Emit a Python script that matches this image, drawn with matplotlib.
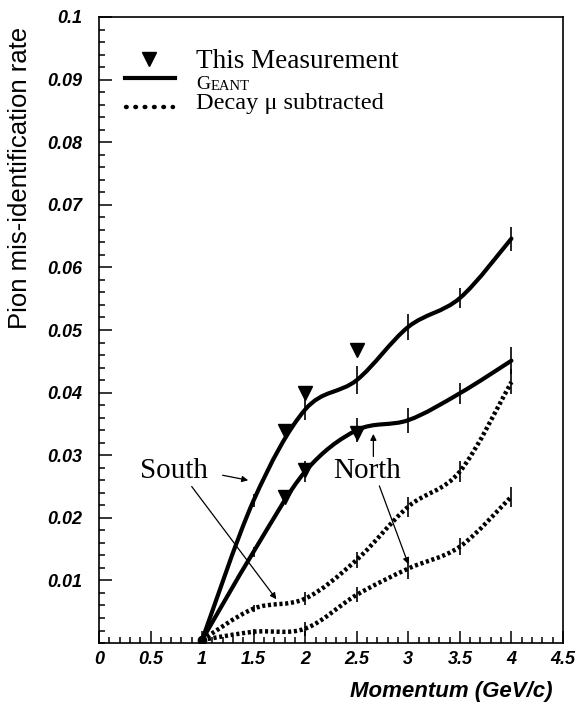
import numpy as np
import matplotlib
matplotlib.use("Agg")
import matplotlib.pyplot as plt
from matplotlib.path import Path
from matplotlib.patches import PathPatch
from matplotlib.ticker import MultipleLocator

# ---------------- data ----------------
momentum = [1.0, 1.5, 2.0, 2.5, 3.0, 3.5, 4.0]

geant_south = [0.0005, 0.0228, 0.0373, 0.0420, 0.0505, 0.0551, 0.0646]
geant_south_err = [0.0, 0.0010, 0.0017, 0.0022, 0.0021, 0.0016, 0.0019]

geant_north = [0.0005, 0.0146, 0.0274, 0.0340, 0.0356, 0.0399, 0.0451]
geant_north_err = [0.0, 0.0008, 0.0016, 0.0019, 0.0020, 0.0017, 0.0022]

decay_south = [0.0005, 0.0055, 0.0071, 0.0133, 0.0218, 0.0274, 0.0417]
decay_south_err = [0.0, 0.0006, 0.0010, 0.0013, 0.0016, 0.0017, 0.0020]

decay_north = [0.0005, 0.0018, 0.0023, 0.0077, 0.0119, 0.0154, 0.0234]
decay_north_err = [0.0, 0.0005, 0.0011, 0.0012, 0.0016, 0.0014, 0.0016]

meas_momentum = [1.8, 2.0, 2.5]
meas_south = [0.0338, 0.0399, 0.0468]
meas_north = [0.0234, 0.0276, 0.0335]

xtick_vals = [0, 0.5, 1, 1.5, 2, 2.5, 3, 3.5, 4, 4.5]
xtick_labels = ["0", "0.5", "1", "1.5", "2", "2.5", "3", "3.5", "4", "4.5"]
ytick_vals = [0.01, 0.02, 0.03, 0.04, 0.05, 0.06, 0.07, 0.08, 0.09, 0.1]
ytick_labels = ["0.01", "0.02", "0.03", "0.04", "0.05", "0.06", "0.07", "0.08", "0.09", "0.1"]

legend_labels = ["This Measurement", "G", "EANT", "Decay \u03bc subtracted"]
x_label = "Momentum (GeV/c)"
y_label = "Pion mis-identification rate"
# --------------------------------------

plt.rcParams["font.family"] = ["Liberation Sans", "DejaVu Sans"]
SERIF = ["Liberation Serif", "DejaVu Serif"]

fig = plt.figure(figsize=(5.78, 7.05), dpi=100)
ax = fig.add_axes([0.1713, 0.0879, 0.8027, 0.888])
ax.set_xlim(0, 4.5)
ax.set_ylim(0, 0.1)


def smooth_path(xs, ys):
    """Catmull-Rom style cubic Bezier path through the data points."""
    pts = np.column_stack([xs, ys]).astype(float)
    n = len(pts)
    verts = [pts[0]]
    codes = [Path.MOVETO]
    for i in range(n - 1):
        p0 = pts[i - 1] if i > 0 else pts[i]
        p1 = pts[i]
        p2 = pts[i + 1]
        p3 = pts[i + 2] if i + 2 < n else pts[i + 1]
        c1 = p1 + (p2 - p0) / 6.0
        c2 = p2 - (p3 - p1) / 6.0
        verts += [c1, c2, p2]
        codes += [Path.CURVE4] * 3
    return Path(verts, codes)


solid_kw = dict(fill=False, lw=3.0, ec="black", capstyle="round", joinstyle="round")
dotted_kw = dict(fill=False, lw=3.2, ec="black", linestyle=(0, (0.7, 0.6)))

for ys in (geant_south, geant_north):
    ax.add_patch(PathPatch(smooth_path(momentum, ys), transform=ax.transData, **solid_kw))
for ys in (decay_south, decay_north):
    ax.add_patch(PathPatch(smooth_path(momentum, ys), transform=ax.transData, **dotted_kw))

for ys, es in ((geant_south, geant_south_err), (geant_north, geant_north_err),
               (decay_south, decay_south_err), (decay_north, decay_north_err)):
    ax.errorbar(momentum[1:], ys[1:], yerr=es[1:], fmt="none", ecolor="black",
                elinewidth=1.2, capsize=0)

ax.plot([momentum[0]], [geant_south[0]], "o", color="black", ms=6)

ax.plot(meas_momentum, meas_south, "v", color="black", ms=10, ls="none")
ax.plot(meas_momentum, meas_north, "v", color="black", ms=10, ls="none")

# ticks
ax.set_xticks(xtick_vals)
ax.set_xticklabels(xtick_labels)
ax.set_yticks(ytick_vals)
ax.set_yticklabels(ytick_labels)
ax.xaxis.set_minor_locator(MultipleLocator(0.1))
ax.yaxis.set_minor_locator(MultipleLocator(0.002))
ax.tick_params(which="both", direction="in", top=False, right=False, width=1.1)
ax.tick_params(which="major", length=9)
ax.tick_params(which="minor", length=4.5)
ax.tick_params(axis="y", which="major", pad=12)
ax.tick_params(axis="x", which="major", pad=6)
for lab in ax.get_xticklabels() + ax.get_yticklabels():
    lab.set_fontsize(13)
    lab.set_fontweight("bold")
    lab.set_fontstyle("italic")
for sp in ax.spines.values():
    sp.set_linewidth(1.2)

# axis labels
fig.text(552 / 578, 1 - 692 / 705, x_label, ha="right", va="center",
         fontsize=16, fontweight="bold", fontstyle="italic")
fig.text(20 / 578, 1 - 178 / 705, y_label, ha="center", va="center",
         rotation=90, fontsize=18.5)

# legend (axes-fraction layout)
T = ax.transAxes
ax.plot([0.1071], [0.9324], "v", color="black", ms=10, transform=T, clip_on=False)
ax.plot([0.056, 0.1638], [0.902, 0.902], color="black", lw=3, transform=T)
ax.plot([0.058, 0.1595], [0.8567, 0.8567], color="black", lw=3.2,
        linestyle=(0, (0.15, 1.95)), dash_capstyle="round", transform=T)
ax.text(0.2091, 0.919, legend_labels[0], transform=T, fontsize=19.5, family=SERIF,
        va="baseline", ha="left")
g = ax.text(0.2091, 0.8855, legend_labels[1], transform=T, fontsize=14, family=SERIF,
            va="baseline", ha="left")
ax.annotate(legend_labels[2], xy=(1, 0), xycoords=g, fontsize=10.5, family=SERIF,
            va="bottom", ha="left")
ax.text(0.2091, 0.8535, legend_labels[3], transform=T, fontsize=17.5, family=SERIF,
        va="baseline", ha="left")

# annotations
ax.text(0.398, 0.02636, "South", fontsize=21, family=SERIF, va="baseline", ha="left")
ax.text(2.273, 0.02636, "North", fontsize=21, family=SERIF, va="baseline", ha="left")
arrow_kw = dict(arrowstyle="-|>", lw=0.9, color="black", mutation_scale=9,
                shrinkA=0, shrinkB=0)
ax.annotate("", xy=(1.447, 0.0260), xytext=(1.199, 0.0268), arrowprops=arrow_kw)
ax.annotate("", xy=(1.72, 0.0070), xytext=(0.899, 0.0250), arrowprops=arrow_kw)
ax.annotate("", xy=(2.661, 0.0334), xytext=(2.661, 0.0298), arrowprops=arrow_kw)
ax.annotate("", xy=(3.0, 0.0126), xytext=(2.719, 0.0251), arrowprops=arrow_kw)

fig.savefig("out.png", dpi=100, facecolor="white")
